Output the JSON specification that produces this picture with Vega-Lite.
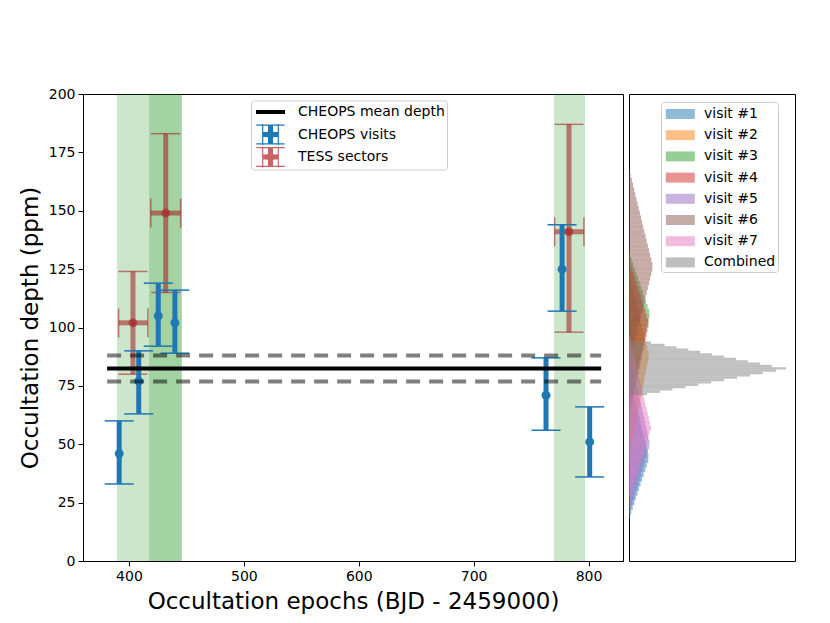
{
 "$schema": "https://vega.github.io/schema/vega-lite/v6.json",
 "padding": {"left": 18, "top": 86, "right": 0, "bottom": 0},
 "background": "white",
 "spacing": 4,
 "config": {
  "font": "DejaVu Sans",
  "view": {"stroke": "#000000", "strokeWidth": 1},
  "axis": {"domainColor": "#000000", "tickColor": "#000000", "labelColor": "#000000", "titleColor": "#000000", "labelFont": "DejaVu Sans", "titleFont": "DejaVu Sans", "labelFontSize": 14, "titleFontSize": 23, "titleFontWeight": "normal", "grid": false, "tickSize": 5, "labelPadding": 3, "domainWidth": 1, "tickWidth": 1},
  "legend": {"labelFont": "DejaVu Sans", "labelFontSize": 14, "labelColor": "#000000"}
 },
 "resolve": {"scale": {"color": "independent", "shape": "independent", "x": "independent", "y": "independent"}},
 "datasets": {
  "spans": [{"x0": 389.5, "x1": 446}, {"x0": 417.5, "x1": 446}, {"x0": 770, "x1": 797}],
  "cheops": [
   {"x": 391.5, "y": 46, "lo": 33, "hi": 60},
   {"x": 408.5, "y": 77, "lo": 63, "hi": 90},
   {"x": 425.5, "y": 105, "lo": 92, "hi": 119},
   {"x": 440, "y": 102, "lo": 89, "hi": 116},
   {"x": 763, "y": 71, "lo": 56, "hi": 87},
   {"x": 777, "y": 125, "lo": 107, "hi": 144},
   {"x": 801, "y": 51, "lo": 36, "hi": 66}
  ],
  "tess": [
   {"x": 403.5, "xlo": 391, "xhi": 416.5, "y": 102, "lo": 80, "hi": 124},
   {"x": 432, "xlo": 419, "xhi": 445, "y": 149, "lo": 115, "hi": 183},
   {"x": 783, "xlo": 770.5, "xhi": 796, "y": 141, "lo": 98, "hi": 187}
  ],
  "mean": [{"y": 82.4, "x0": 381, "x1": 811}],
  "meanerr": [{"y": 76.9, "x0": 381, "x1": 811}, {"y": 88.0, "x0": 381, "x1": 811}],
  "legend": [{"kind": "CHEOPS mean depth"}, {"kind": "CHEOPS visits"}, {"kind": "TESS sectors"}],
  "hist": [
   {"s":"visit #1","y0":18,"y1":20,"w":0.8},{"s":"visit #1","y0":20,"y1":22,"w":2.3},{"s":"visit #1","y0":22,"y1":24,"w":3.8},{"s":"visit #1","y0":24,"y1":26,"w":5.4},{"s":"visit #1","y0":26,"y1":28,"w":6.9},{"s":"visit #1","y0":28,"y1":30,"w":8.5},{"s":"visit #1","y0":30,"y1":32,"w":10},{"s":"visit #1","y0":32,"y1":34,"w":11.5},{"s":"visit #1","y0":34,"y1":36,"w":13.1},{"s":"visit #1","y0":36,"y1":38,"w":14.6},{"s":"visit #1","y0":38,"y1":40,"w":16.2},{"s":"visit #1","y0":40,"y1":42,"w":17.7},{"s":"visit #1","y0":42,"y1":44,"w":19.2},{"s":"visit #1","y0":44,"y1":46,"w":19.4},{"s":"visit #1","y0":46,"y1":48,"w":18.3},{"s":"visit #1","y0":48,"y1":50,"w":17.2},{"s":"visit #1","y0":50,"y1":52,"w":16.1},{"s":"visit #1","y0":52,"y1":54,"w":15},{"s":"visit #1","y0":54,"y1":56,"w":13.9},{"s":"visit #1","y0":56,"y1":58,"w":12.8},{"s":"visit #1","y0":58,"y1":60,"w":11.7},{"s":"visit #1","y0":60,"y1":62,"w":10.6},{"s":"visit #1","y0":62,"y1":64,"w":9.4},{"s":"visit #1","y0":64,"y1":66,"w":8.3},{"s":"visit #1","y0":66,"y1":68,"w":7.2},{"s":"visit #1","y0":68,"y1":70,"w":6.1},{"s":"visit #1","y0":70,"y1":72,"w":5},{"s":"visit #1","y0":72,"y1":74,"w":3.9},{"s":"visit #1","y0":74,"y1":76,"w":2.8},{"s":"visit #1","y0":76,"y1":78,"w":1.7},{"s":"visit #1","y0":78,"y1":80,"w":0.6},
   {"s":"visit #2","y0":44,"y1":46,"w":0.6},{"s":"visit #2","y0":46,"y1":48,"w":1.6},{"s":"visit #2","y0":48,"y1":50,"w":2.5},{"s":"visit #2","y0":50,"y1":52,"w":3.4},{"s":"visit #2","y0":52,"y1":54,"w":4.3},{"s":"visit #2","y0":54,"y1":56,"w":5.2},{"s":"visit #2","y0":56,"y1":58,"w":6.1},{"s":"visit #2","y0":58,"y1":60,"w":7},{"s":"visit #2","y0":60,"y1":62,"w":7.9},{"s":"visit #2","y0":62,"y1":64,"w":8.8},{"s":"visit #2","y0":64,"y1":66,"w":9.7},{"s":"visit #2","y0":66,"y1":68,"w":10.6},{"s":"visit #2","y0":68,"y1":70,"w":11.5},{"s":"visit #2","y0":70,"y1":72,"w":12.4},{"s":"visit #2","y0":72,"y1":74,"w":13.3},{"s":"visit #2","y0":74,"y1":76,"w":14.2},{"s":"visit #2","y0":76,"y1":78,"w":15.1},{"s":"visit #2","y0":78,"y1":80,"w":16},{"s":"visit #2","y0":80,"y1":82,"w":16.9},{"s":"visit #2","y0":82,"y1":84,"w":17.8},{"s":"visit #2","y0":84,"y1":86,"w":18.7},{"s":"visit #2","y0":86,"y1":88,"w":19.6},{"s":"visit #2","y0":88,"y1":90,"w":19.5},{"s":"visit #2","y0":90,"y1":92,"w":18.4},{"s":"visit #2","y0":92,"y1":94,"w":17.3},{"s":"visit #2","y0":94,"y1":96,"w":16.2},{"s":"visit #2","y0":96,"y1":98,"w":15.1},{"s":"visit #2","y0":98,"y1":100,"w":14},{"s":"visit #2","y0":100,"y1":102,"w":12.9},{"s":"visit #2","y0":102,"y1":104,"w":11.8},{"s":"visit #2","y0":104,"y1":106,"w":10.7},{"s":"visit #2","y0":106,"y1":108,"w":9.6},{"s":"visit #2","y0":108,"y1":110,"w":8.5},{"s":"visit #2","y0":110,"y1":112,"w":7.4},{"s":"visit #2","y0":112,"y1":114,"w":6.3},{"s":"visit #2","y0":114,"y1":116,"w":5.2},{"s":"visit #2","y0":116,"y1":118,"w":4.1},{"s":"visit #2","y0":118,"y1":120,"w":3},{"s":"visit #2","y0":120,"y1":122,"w":1.9},{"s":"visit #2","y0":122,"y1":124,"w":0.8},
   {"s":"visit #3","y0":64,"y1":66,"w":0.5},{"s":"visit #3","y0":66,"y1":68,"w":1.5},{"s":"visit #3","y0":68,"y1":70,"w":2.5},{"s":"visit #3","y0":70,"y1":72,"w":3.5},{"s":"visit #3","y0":72,"y1":74,"w":4.5},{"s":"visit #3","y0":74,"y1":76,"w":5.5},{"s":"visit #3","y0":76,"y1":78,"w":6.5},{"s":"visit #3","y0":78,"y1":80,"w":7.5},{"s":"visit #3","y0":80,"y1":82,"w":8.5},{"s":"visit #3","y0":82,"y1":84,"w":9.5},{"s":"visit #3","y0":84,"y1":86,"w":10.5},{"s":"visit #3","y0":86,"y1":88,"w":11.5},{"s":"visit #3","y0":88,"y1":90,"w":12.5},{"s":"visit #3","y0":90,"y1":92,"w":13.5},{"s":"visit #3","y0":92,"y1":94,"w":14.5},{"s":"visit #3","y0":94,"y1":96,"w":15.5},{"s":"visit #3","y0":96,"y1":98,"w":16.5},{"s":"visit #3","y0":98,"y1":100,"w":17.5},{"s":"visit #3","y0":100,"y1":102,"w":18.5},{"s":"visit #3","y0":102,"y1":104,"w":19.5},{"s":"visit #3","y0":104,"y1":106,"w":20.5},{"s":"visit #3","y0":106,"y1":108,"w":20.2},{"s":"visit #3","y0":108,"y1":110,"w":18.6},{"s":"visit #3","y0":110,"y1":112,"w":17},{"s":"visit #3","y0":112,"y1":114,"w":15.4},{"s":"visit #3","y0":114,"y1":116,"w":13.8},{"s":"visit #3","y0":116,"y1":118,"w":12.2},{"s":"visit #3","y0":118,"y1":120,"w":10.6},{"s":"visit #3","y0":120,"y1":122,"w":9},{"s":"visit #3","y0":122,"y1":124,"w":7.4},{"s":"visit #3","y0":124,"y1":126,"w":5.8},{"s":"visit #3","y0":126,"y1":128,"w":4.2},{"s":"visit #3","y0":128,"y1":130,"w":2.6},{"s":"visit #3","y0":130,"y1":132,"w":1},
   {"s":"visit #4","y0":62,"y1":64,"w":0.5},{"s":"visit #4","y0":64,"y1":66,"w":1.5},{"s":"visit #4","y0":66,"y1":68,"w":2.5},{"s":"visit #4","y0":68,"y1":70,"w":3.5},{"s":"visit #4","y0":70,"y1":72,"w":4.5},{"s":"visit #4","y0":72,"y1":74,"w":5.5},{"s":"visit #4","y0":74,"y1":76,"w":6.5},{"s":"visit #4","y0":76,"y1":78,"w":7.5},{"s":"visit #4","y0":78,"y1":80,"w":8.5},{"s":"visit #4","y0":80,"y1":82,"w":9.5},{"s":"visit #4","y0":82,"y1":84,"w":10.5},{"s":"visit #4","y0":84,"y1":86,"w":11.5},{"s":"visit #4","y0":86,"y1":88,"w":12.5},{"s":"visit #4","y0":88,"y1":90,"w":13.5},{"s":"visit #4","y0":90,"y1":92,"w":14.5},{"s":"visit #4","y0":92,"y1":94,"w":15.5},{"s":"visit #4","y0":94,"y1":96,"w":16.5},{"s":"visit #4","y0":96,"y1":98,"w":17.5},{"s":"visit #4","y0":98,"y1":100,"w":18.5},{"s":"visit #4","y0":100,"y1":102,"w":19.5},{"s":"visit #4","y0":102,"y1":104,"w":19.3},{"s":"visit #4","y0":104,"y1":106,"w":17.8},{"s":"visit #4","y0":106,"y1":108,"w":16.3},{"s":"visit #4","y0":108,"y1":110,"w":14.8},{"s":"visit #4","y0":110,"y1":112,"w":13.3},{"s":"visit #4","y0":112,"y1":114,"w":11.8},{"s":"visit #4","y0":114,"y1":116,"w":10.3},{"s":"visit #4","y0":116,"y1":118,"w":8.8},{"s":"visit #4","y0":118,"y1":120,"w":7.3},{"s":"visit #4","y0":120,"y1":122,"w":5.8},{"s":"visit #4","y0":122,"y1":124,"w":4.3},{"s":"visit #4","y0":124,"y1":126,"w":2.8},{"s":"visit #4","y0":126,"y1":128,"w":1.3},
   {"s":"visit #5","y0":20,"y1":22,"w":0.7},{"s":"visit #5","y0":22,"y1":24,"w":2.1},{"s":"visit #5","y0":24,"y1":26,"w":3.5},{"s":"visit #5","y0":26,"y1":28,"w":4.9},{"s":"visit #5","y0":28,"y1":30,"w":6.3},{"s":"visit #5","y0":30,"y1":32,"w":7.7},{"s":"visit #5","y0":32,"y1":34,"w":9.1},{"s":"visit #5","y0":34,"y1":36,"w":10.5},{"s":"visit #5","y0":36,"y1":38,"w":11.9},{"s":"visit #5","y0":38,"y1":40,"w":13.3},{"s":"visit #5","y0":40,"y1":42,"w":14.7},{"s":"visit #5","y0":42,"y1":44,"w":16.1},{"s":"visit #5","y0":44,"y1":46,"w":17.5},{"s":"visit #5","y0":46,"y1":48,"w":18.9},{"s":"visit #5","y0":48,"y1":50,"w":20.3},{"s":"visit #5","y0":50,"y1":52,"w":20.5},{"s":"visit #5","y0":52,"y1":54,"w":19.4},{"s":"visit #5","y0":54,"y1":56,"w":18.4},{"s":"visit #5","y0":56,"y1":58,"w":17.3},{"s":"visit #5","y0":58,"y1":60,"w":16.3},{"s":"visit #5","y0":60,"y1":62,"w":15.2},{"s":"visit #5","y0":62,"y1":64,"w":14.2},{"s":"visit #5","y0":64,"y1":66,"w":13.1},{"s":"visit #5","y0":66,"y1":68,"w":12.1},{"s":"visit #5","y0":68,"y1":70,"w":11},{"s":"visit #5","y0":70,"y1":72,"w":10},{"s":"visit #5","y0":72,"y1":74,"w":8.9},{"s":"visit #5","y0":74,"y1":76,"w":7.9},{"s":"visit #5","y0":76,"y1":78,"w":6.8},{"s":"visit #5","y0":78,"y1":80,"w":5.8},{"s":"visit #5","y0":80,"y1":82,"w":4.7},{"s":"visit #5","y0":82,"y1":84,"w":3.7},{"s":"visit #5","y0":84,"y1":86,"w":2.6},{"s":"visit #5","y0":86,"y1":88,"w":1.6},{"s":"visit #5","y0":88,"y1":90,"w":0.5},
   {"s":"visit #6","y0":84,"y1":86,"w":0.6},{"s":"visit #6","y0":86,"y1":88,"w":1.7},{"s":"visit #6","y0":88,"y1":90,"w":2.9},{"s":"visit #6","y0":90,"y1":92,"w":4},{"s":"visit #6","y0":92,"y1":94,"w":5.2},{"s":"visit #6","y0":94,"y1":96,"w":6.3},{"s":"visit #6","y0":96,"y1":98,"w":7.4},{"s":"visit #6","y0":98,"y1":100,"w":8.6},{"s":"visit #6","y0":100,"y1":102,"w":9.7},{"s":"visit #6","y0":102,"y1":104,"w":10.9},{"s":"visit #6","y0":104,"y1":106,"w":12},{"s":"visit #6","y0":106,"y1":108,"w":13.1},{"s":"visit #6","y0":108,"y1":110,"w":14.3},{"s":"visit #6","y0":110,"y1":112,"w":15.4},{"s":"visit #6","y0":112,"y1":114,"w":16.6},{"s":"visit #6","y0":114,"y1":116,"w":17.7},{"s":"visit #6","y0":116,"y1":118,"w":18.9},{"s":"visit #6","y0":118,"y1":120,"w":20},{"s":"visit #6","y0":120,"y1":122,"w":21.1},{"s":"visit #6","y0":122,"y1":124,"w":22.3},{"s":"visit #6","y0":124,"y1":126,"w":23.4},{"s":"visit #6","y0":126,"y1":128,"w":23.4},{"s":"visit #6","y0":128,"y1":130,"w":22.3},{"s":"visit #6","y0":130,"y1":132,"w":21.1},{"s":"visit #6","y0":132,"y1":134,"w":20},{"s":"visit #6","y0":134,"y1":136,"w":18.9},{"s":"visit #6","y0":136,"y1":138,"w":17.7},{"s":"visit #6","y0":138,"y1":140,"w":16.6},{"s":"visit #6","y0":140,"y1":142,"w":15.4},{"s":"visit #6","y0":142,"y1":144,"w":14.3},{"s":"visit #6","y0":144,"y1":146,"w":13.1},{"s":"visit #6","y0":146,"y1":148,"w":12},{"s":"visit #6","y0":148,"y1":150,"w":10.9},{"s":"visit #6","y0":150,"y1":152,"w":9.7},{"s":"visit #6","y0":152,"y1":154,"w":8.6},{"s":"visit #6","y0":154,"y1":156,"w":7.4},{"s":"visit #6","y0":156,"y1":158,"w":6.3},{"s":"visit #6","y0":158,"y1":160,"w":5.2},{"s":"visit #6","y0":160,"y1":162,"w":4},{"s":"visit #6","y0":162,"y1":164,"w":2.9},{"s":"visit #6","y0":164,"y1":166,"w":1.7},{"s":"visit #6","y0":166,"y1":168,"w":0.6},
   {"s":"visit #7","y0":28,"y1":30,"w":1.5},{"s":"visit #7","y0":30,"y1":32,"w":2.9},{"s":"visit #7","y0":32,"y1":34,"w":4.4},{"s":"visit #7","y0":34,"y1":36,"w":5.9},{"s":"visit #7","y0":36,"y1":38,"w":7.3},{"s":"visit #7","y0":38,"y1":40,"w":8.8},{"s":"visit #7","y0":40,"y1":42,"w":10.3},{"s":"visit #7","y0":42,"y1":44,"w":11.7},{"s":"visit #7","y0":44,"y1":46,"w":13.2},{"s":"visit #7","y0":46,"y1":48,"w":14.7},{"s":"visit #7","y0":48,"y1":50,"w":16.1},{"s":"visit #7","y0":50,"y1":52,"w":17.6},{"s":"visit #7","y0":52,"y1":54,"w":19.1},{"s":"visit #7","y0":54,"y1":56,"w":20.5},{"s":"visit #7","y0":56,"y1":58,"w":22},{"s":"visit #7","y0":58,"y1":60,"w":20.9},{"s":"visit #7","y0":60,"y1":62,"w":19.8},{"s":"visit #7","y0":62,"y1":64,"w":18.7},{"s":"visit #7","y0":64,"y1":66,"w":17.6},{"s":"visit #7","y0":66,"y1":68,"w":16.5},{"s":"visit #7","y0":68,"y1":70,"w":15.4},{"s":"visit #7","y0":70,"y1":72,"w":14.3},{"s":"visit #7","y0":72,"y1":74,"w":13.2},{"s":"visit #7","y0":74,"y1":76,"w":12.1},{"s":"visit #7","y0":76,"y1":78,"w":11},{"s":"visit #7","y0":78,"y1":80,"w":9.9},{"s":"visit #7","y0":80,"y1":82,"w":8.8},{"s":"visit #7","y0":82,"y1":84,"w":7.7},{"s":"visit #7","y0":84,"y1":86,"w":6.6},{"s":"visit #7","y0":86,"y1":88,"w":5.5},{"s":"visit #7","y0":88,"y1":90,"w":4.4},{"s":"visit #7","y0":90,"y1":92,"w":3.3},{"s":"visit #7","y0":92,"y1":94,"w":2.2},{"s":"visit #7","y0":94,"y1":96,"w":1.1},
   {"s":"Combined","y0":71,"y1":72,"w":18},{"s":"Combined","y0":72,"y1":73,"w":31},{"s":"Combined","y0":73,"y1":74,"w":43.5},{"s":"Combined","y0":74,"y1":75,"w":56.4},{"s":"Combined","y0":75,"y1":76,"w":69.3},{"s":"Combined","y0":76,"y1":77,"w":82.2},{"s":"Combined","y0":77,"y1":78,"w":95.1},{"s":"Combined","y0":78,"y1":79,"w":108},{"s":"Combined","y0":79,"y1":80,"w":120.9},{"s":"Combined","y0":80,"y1":81,"w":133.8},{"s":"Combined","y0":81,"y1":82,"w":147},{"s":"Combined","y0":82,"y1":83,"w":157},{"s":"Combined","y0":83,"y1":84,"w":142.7},{"s":"Combined","y0":84,"y1":85,"w":130.8},{"s":"Combined","y0":85,"y1":86,"w":118.9},{"s":"Combined","y0":86,"y1":87,"w":107},{"s":"Combined","y0":87,"y1":88,"w":95.1},{"s":"Combined","y0":88,"y1":89,"w":83.2},{"s":"Combined","y0":89,"y1":90,"w":71.3},{"s":"Combined","y0":90,"y1":91,"w":59.4},{"s":"Combined","y0":91,"y1":92,"w":47.5},{"s":"Combined","y0":92,"y1":93,"w":35.6},{"s":"Combined","y0":93,"y1":94,"w":22}
  ]
 },
 "hconcat": [
  {
   "width": 540,
   "height": 467,
   "layer": [
    {
     "data": {"name": "spans"},
     "mark": {"type": "rect", "color": "green", "opacity": 0.2},
     "encoding": {
      "x": {"field": "x0", "type": "quantitative", "scale": {"domain": [360, 830], "nice": false, "zero": false}, "axis": {"title": "Occultation epochs (BJD - 2459000)", "values": [400, 500, 600, 700, 800], "titlePadding": 7}},
      "x2": {"field": "x1"}
     }
    },
    {
     "data": {"name": "tess"},
     "mark": {"type": "rule", "color": "#a52a2a", "opacity": 0.6, "strokeWidth": 5},
     "encoding": {
      "x": {"field": "x", "type": "quantitative"},
      "y": {"field": "lo", "type": "quantitative", "scale": {"domain": [0, 200], "nice": false}, "axis": {"title": "Occultation depth (ppm)", "values": [0, 25, 50, 75, 100, 125, 150, 175, 200], "titlePadding": 6}},
      "y2": {"field": "hi"}
     }
    },
    {
     "data": {"name": "tess"},
     "mark": {"type": "rule", "color": "#a52a2a", "opacity": 0.6, "strokeWidth": 5},
     "encoding": {
      "x": {"field": "xlo", "type": "quantitative"},
      "x2": {"field": "xhi"},
      "y": {"field": "y", "type": "quantitative"}
     }
    },
    {
     "data": {"name": "tess"},
     "mark": {"type": "tick", "orient": "horizontal", "size": 29, "thickness": 1.5, "color": "#a52a2a", "opacity": 0.6},
     "encoding": {"x": {"field": "x", "type": "quantitative"}, "y": {"field": "lo", "type": "quantitative"}}
    },
    {
     "data": {"name": "tess"},
     "mark": {"type": "tick", "orient": "horizontal", "size": 29, "thickness": 1.5, "color": "#a52a2a", "opacity": 0.6},
     "encoding": {"x": {"field": "x", "type": "quantitative"}, "y": {"field": "hi", "type": "quantitative"}}
    },
    {
     "data": {"name": "tess"},
     "mark": {"type": "tick", "orient": "vertical", "size": 29, "thickness": 1.5, "color": "#a52a2a", "opacity": 0.6},
     "encoding": {"x": {"field": "xlo", "type": "quantitative"}, "y": {"field": "y", "type": "quantitative"}}
    },
    {
     "data": {"name": "tess"},
     "mark": {"type": "tick", "orient": "vertical", "size": 29, "thickness": 1.5, "color": "#a52a2a", "opacity": 0.6},
     "encoding": {"x": {"field": "xhi", "type": "quantitative"}, "y": {"field": "y", "type": "quantitative"}}
    },
    {
     "data": {"name": "tess"},
     "mark": {"type": "point", "filled": true, "size": 80, "color": "#a52a2a", "opacity": 0.6},
     "encoding": {"x": {"field": "x", "type": "quantitative"}, "y": {"field": "y", "type": "quantitative"}}
    },
    {
     "data": {"name": "cheops"},
     "mark": {"type": "rule", "color": "#1f77b4", "strokeWidth": 5},
     "encoding": {"x": {"field": "x", "type": "quantitative"}, "y": {"field": "lo", "type": "quantitative"}, "y2": {"field": "hi"}}
    },
    {
     "data": {"name": "cheops"},
     "mark": {"type": "tick", "orient": "horizontal", "size": 29, "thickness": 1.5, "color": "#1f77b4", "opacity": 1},
     "encoding": {"x": {"field": "x", "type": "quantitative"}, "y": {"field": "lo", "type": "quantitative"}}
    },
    {
     "data": {"name": "cheops"},
     "mark": {"type": "tick", "orient": "horizontal", "size": 29, "thickness": 1.5, "color": "#1f77b4", "opacity": 1},
     "encoding": {"x": {"field": "x", "type": "quantitative"}, "y": {"field": "hi", "type": "quantitative"}}
    },
    {
     "data": {"name": "cheops"},
     "mark": {"type": "point", "filled": true, "size": 80, "color": "#1f77b4", "opacity": 1},
     "encoding": {"x": {"field": "x", "type": "quantitative"}, "y": {"field": "y", "type": "quantitative"}}
    },
    {
     "data": {"name": "mean"},
     "mark": {"type": "rule", "color": "#000000", "strokeWidth": 4},
     "encoding": {"x": {"field": "x0", "type": "quantitative"}, "x2": {"field": "x1"}, "y": {"field": "y", "type": "quantitative"}}
    },
    {
     "data": {"name": "meanerr"},
     "mark": {"type": "rule", "color": "#000000", "opacity": 0.5, "strokeWidth": 4, "strokeDash": [14, 9]},
     "encoding": {"x": {"field": "x0", "type": "quantitative"}, "x2": {"field": "x1"}, "y": {"field": "y", "type": "quantitative"}}
    },
    {
     "data": {"name": "legend"},
     "mark": {"type": "point", "filled": true, "opacity": 0},
     "encoding": {
      "color": {"field": "kind", "type": "nominal", "scale": {"domain": ["CHEOPS mean depth", "CHEOPS visits", "TESS sectors"], "range": ["#000000", "#1f77b4", "#c86464"]},
       "legend": {"title": null, "orient": "none", "legendX": 168, "legendY": 6.5, "symbolSize": 400, "labelOffset": 25.5, "rowPadding": 0.5, "padding": 1.5, "fillColor": "white", "strokeColor": "#cccccc", "cornerRadius": 3, "symbolOpacity": 1, "symbolStrokeWidth": 0}},
      "shape": {"field": "kind", "type": "nominal", "scale": {"domain": ["CHEOPS mean depth", "CHEOPS visits", "TESS sectors"], "range": [
        "M-0.65,-0.2H2.25V0.2H-0.65Z M0.8,-1.05h0.001v0.001Z M0.8,1.049h0.001v0.001Z",
        "M-0.62,-1.0H2.22V-0.88H-0.62Z M-0.62,0.88H2.22V1.0H-0.62Z M-0.04,-1.05H0.08V1.05H-0.04Z M1.52,-1.05H1.64V1.05H1.52Z M0.55,-0.94H1.05V0.94H0.55Z M0.02,-0.25H1.58V0.25H0.02Z M1.22,0A0.42,0.42 0 1,1 0.38,0A0.42,0.42 0 1,1 1.22,0Z",
        "M-0.62,-1.0H2.22V-0.88H-0.62Z M-0.62,0.88H2.22V1.0H-0.62Z M-0.04,-1.05H0.08V1.05H-0.04Z M1.52,-1.05H1.64V1.05H1.52Z M0.55,-0.94H1.05V0.94H0.55Z M0.02,-0.25H1.58V0.25H0.02Z M1.22,0A0.42,0.42 0 1,1 0.38,0A0.42,0.42 0 1,1 1.22,0Z"
       ]},
       "legend": {"title": null, "orient": "none", "legendX": 168, "legendY": 6.5, "symbolSize": 400, "labelOffset": 25.5, "rowPadding": 0.5, "padding": 1.5, "fillColor": "white", "strokeColor": "#cccccc", "cornerRadius": 3, "symbolOpacity": 1, "symbolStrokeWidth": 0}}
     }
    }
   ]
  },
  {
   "width": 166,
   "height": 467,
   "data": {"name": "hist"},
   "mark": {"type": "rect", "opacity": 0.5},
   "encoding": {
    "y": {"field": "y0", "type": "quantitative", "scale": {"domain": [0, 200], "nice": false}, "axis": null},
    "y2": {"field": "y1"},
    "x": {"field": "w", "type": "quantitative", "scale": {"domain": [0, 166], "nice": false}, "axis": null},
    "x2": {"datum": 0},
    "color": {"field": "s", "type": "nominal",
     "scale": {"domain": ["visit #1", "visit #2", "visit #3", "visit #4", "visit #5", "visit #6", "visit #7", "Combined"], "range": ["#1f77b4", "#ff7f0e", "#2ca02c", "#d62728", "#9467bd", "#8c564b", "#e377c2", "#7f7f7f"]},
     "legend": {"title": null, "orient": "none", "legendX": 32, "legendY": 8, "symbolType": "M-0.72,-0.5H2.18V0.5H-0.72Z", "symbolSize": 400, "labelOffset": 21, "rowPadding": 4.2, "padding": 2, "fillColor": "rgba(255,255,255,0.8)", "strokeColor": "#cccccc", "cornerRadius": 3, "symbolOpacity": 0.5, "symbolStrokeWidth": 0}}
   }
  }
 ]
}
